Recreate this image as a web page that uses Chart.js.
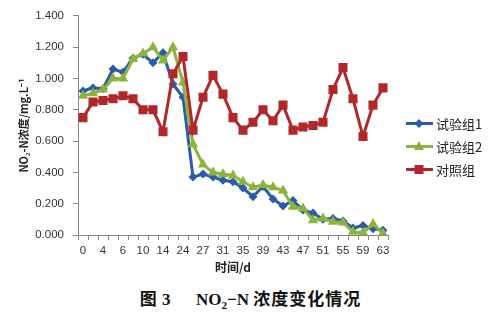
<!DOCTYPE html>
<html><head><meta charset="utf-8">
<script src="https://cdn.jsdelivr.net/npm/chart.js@4"></script>
<style>
body{margin:0;background:#fff;width:495px;height:322px;overflow:hidden;position:relative;font-family:"Liberation Sans","Noto Sans CJK SC",sans-serif}
#wrap{position:absolute;left:0;top:0;width:495px;height:280px}
#legend{position:absolute;left:406px;top:112px;font-size:13px;color:#222;font-family:"Noto Sans CJK SC","Liberation Sans",sans-serif}
.item{height:23px;display:flex;align-items:center}
.item svg{margin-right:3px}
#cap{position:absolute;left:0;width:495px;top:285px;text-align:center;font-weight:bold;font-size:17px;color:#111;font-family:"Liberation Serif","Noto Sans CJK SC",serif;padding-left:3px}
#cap .zh{font-family:"Noto Sans CJK SC",sans-serif;letter-spacing:1px}
</style></head><body>
<div id="wrap"><canvas id="c"></canvas></div>
<div id="legend"></div>
<div id="cap"><span class="zh">图</span> 3&nbsp;&nbsp;&nbsp;&nbsp;&nbsp; NO<sub style="font-size:11px">2</sub>−N <span class="zh">浓度变化情况</span></div>
<script>
const tickLabels = ['0','4','6','10','14','24','27','31','35','39','43','47','51','55','59','63'];
const group1 = [0.92,0.94,0.935,1.06,1.04,1.13,1.155,1.10,1.165,0.965,0.88,0.37,0.39,0.37,0.35,0.34,0.30,0.245,0.31,0.23,0.185,0.22,0.16,0.14,0.10,0.105,0.09,0.045,0.06,0.04,0.03];
const group2 = [0.89,0.905,0.93,1.00,1.00,1.125,1.16,1.20,1.115,1.20,0.975,0.58,0.45,0.40,0.39,0.38,0.34,0.305,0.32,0.305,0.285,0.18,0.17,0.095,0.105,0.085,0.08,0.02,0.015,0.07,0.01];
const control = [0.75,0.85,0.86,0.87,0.89,0.87,0.80,0.80,0.66,1.03,1.14,0.67,0.88,1.02,0.90,0.75,0.67,0.72,0.80,0.73,0.83,0.67,0.69,0.70,0.72,0.93,1.07,0.87,0.63,0.83,0.94];
const seriesNames = ['试验组1','试验组2','对照组'];
const yTicks = [0,0.2,0.4,0.6,0.8,1.0,1.2,1.4];

const categories = [];
tickLabels.forEach((t,i)=>{ categories.push(t); if(i<tickLabels.length-1) categories.push(''); });

const colors = ['#2A5CA8','#8BB43F','#B0282A'];
const styles = ['rectRot','triangle','rect'];
const radii = [4.5,6,6.4];

const ds = [group1, group2, control].map((d,i)=>({
  label: seriesNames[i], data: d, borderColor: colors[i], backgroundColor: colors[i],
  borderWidth: 3, pointStyle: styles[i], pointRadius: radii[i], pointHoverRadius: radii[i],
  pointBorderWidth: 0, tension: 0, order: 2-i
}));

new Chart(document.getElementById('c'), {
  type: 'line',
  data: { labels: categories, datasets: ds },
  options: {
    responsive: true, maintainAspectRatio: false, animation: false,
    layout: { padding: { left: 0, right: 107, top: 13, bottom: 0 } },
    plugins: { legend: { display: false }, tooltip: { enabled: false } },
    scales: {
      x: {
        offset: true,
        grid: { offset: true, drawOnChartArea: false, drawTicks: true, tickLength: 5, color: '#868686' },
        border: { color: '#868686', width: 1 },
        ticks: { autoSkip: false, maxRotation: 0, minRotation: 0, padding: 4, color: '#333',
                 font: { family: 'Liberation Sans', size: 11.5 } },
        title: { display: true, text: '时间/d', color: '#222', padding: { top: 0, bottom: 5 },
                 font: { family: 'Noto Sans CJK SC', size: 12, weight: 'bold' } },
        afterFit: s => { s.height = 45; }
      },
      y: {
        min: 0, max: 1.4,
        afterBuildTicks: s => { s.ticks = yTicks.map(v=>({value:v})); },
        grid: { drawOnChartArea: false, drawTicks: true, tickLength: 5, color: '#868686' },
        border: { color: '#868686', width: 1 },
        ticks: { padding: 9, color: '#333', font: { family: 'Liberation Sans', size: 11.5 },
                 callback: v => Number(v).toFixed(3) },
        title: { display: true, text: 'NO₂-N浓度/mg.L⁻¹', color: '#222', padding: { top: 17, bottom: 0 },
                 font: { family: 'Noto Sans CJK SC', size: 11, weight: 'bold' } },
        afterFit: s => { s.width = 78; }
      }
    }
  }
});

// legend
const leg = document.getElementById('legend');
const markerSvg = (i) => {
  const c = colors[i];
  let m;
  if (i===0) m = `<polygon points="13,2 17.5,6.5 13,11 8.5,6.5" fill="${c}"/>`;
  else if (i===1) m = `<polygon points="13,1 18,10 8,10" fill="${c}"/>`;
  else m = `<rect x="8.5" y="2" width="9" height="9" fill="${c}"/>`;
  return `<svg width="27" height="13"><line x1="0" y1="6.5" x2="27" y2="6.5" stroke="${c}" stroke-width="3"/>${m}</svg>`;
};
seriesNames.forEach((n,i)=>{
  const d = document.createElement('div'); d.className='item';
  d.innerHTML = markerSvg(i) + '<span>'+n+'</span>';
  leg.appendChild(d);
});
</script>
</body></html>
